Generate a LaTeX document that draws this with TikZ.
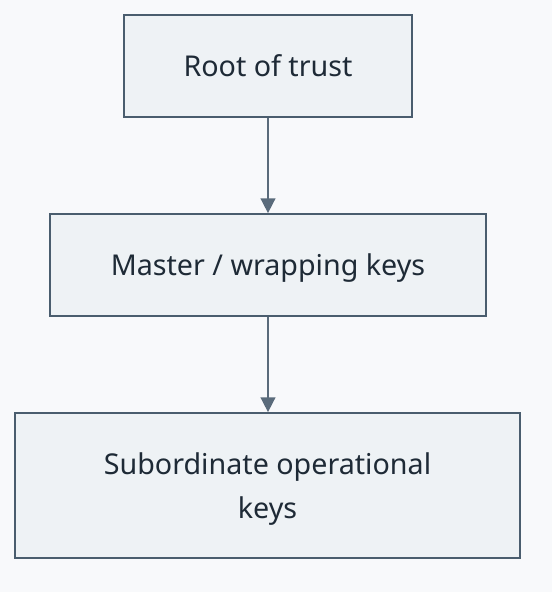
\documentclass[tikz,border=0pt]{standalone}
\usepackage{fontspec}
\setmainfont{Noto Sans}
\usetikzlibrary{arrows.meta}
\definecolor{bgc}{HTML}{F8F9FB}
\definecolor{boxfill}{HTML}{EEF2F5}
\definecolor{boxline}{HTML}{4A5D6E}
\definecolor{arrowc}{HTML}{5A6B7B}
\definecolor{txt}{HTML}{1E2A36}
\newcommand\nodepthtext[1]{\raisebox{0pt}[\height][0pt]{#1}}
\tikzset{
  px/.style={x=0.75pt,y=-0.75pt},
  keybox/.style={draw=boxline, fill=boxfill, line width=1.3pt, inner sep=0pt,
    text=txt, font=\fontsize{21.5}{33}\selectfont, align=center},
  flow/.style={draw=arrowc, line width=1.2pt, -{Triangle[width=11pt,length=11pt]}}
}
\begin{document}
\begin{tikzpicture}[px]
\fill[bgc] (0,0) rectangle (552,592);
\useasboundingbox (0,0) rectangle (552,592);
\node[keybox, minimum width=288*0.75pt, minimum height=102*0.75pt] (root) at (268,66) {Root of trust};
\node[keybox, minimum width=436*0.75pt, minimum height=102*0.75pt] (master) at (268,265) {\nodepthtext{Master / wrapping keys}};
\node[keybox, minimum width=505*0.75pt, minimum height=145*0.75pt] (sub) at (267.5,485.5) {Subordinate operational\\\nodepthtext{keys}};
\draw[flow] (root.south) -- (master.north);
\draw[flow] (master.south) -- (sub.north -| master.south);
\end{tikzpicture}
\end{document}
